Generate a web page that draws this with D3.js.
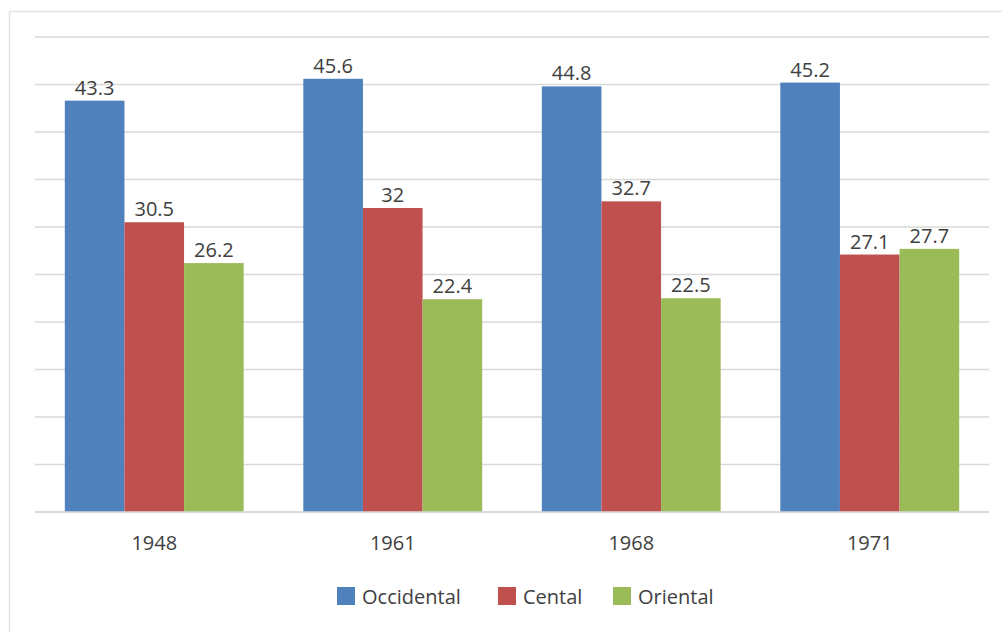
<!DOCTYPE html>
<meta charset="utf-8">
<head>
<style>
body {
  margin: 0;
  background-color: #fff;
}
text {
  font-family: 'Open Sans', sans-serif;
  fill: #404040;
}
.grid line {
  stroke: #d9d9d9;
  stroke-width: 1.5;
}
</style>
<script src="https://d3js.org/d3.v7.min.js"></script>
</head>
<body>
<svg id="chart"></svg>

<script>

var years = ["1948", "1961", "1968", "1971"]
var series = ["Occidental", "Cental", "Oriental"]
var occidental = [43.3, 45.6, 44.8, 45.2]
var cental = [30.5, 32, 32.7, 27.1]
var oriental = [26.2, 22.4, 22.5, 27.7]
var colors = ["#4f81bd", "#c0504d", "#9bbb59"]
var yTicks = [0, 5, 10, 15, 20, 25, 30, 35, 40, 45, 50]

var width = 1002
var height = 632

var rows = years.map(function (y, i) {
  return {year: y, values: [occidental[i], cental[i], oriental[i]]}
})

var svg = d3.select('#chart')
  .attr('width', width)
  .attr('height', height)

// outer frame
svg.append('rect')
  .attr('x', 9.5)
  .attr('y', 11.5)
  .attr('width', 1000)
  .attr('height', 640)
  .attr('fill', 'none')
  .attr('stroke', '#e3e3e3')
  .attr('stroke-width', 1.5)

// scales
var x = d3.scaleBand()
  .domain(years)
  .range([35, 989])
  .paddingInner(0.25)
  .paddingOuter(0.125)

var xs = d3.scaleBand()
  .domain(series)
  .range([0, x.bandwidth()])

var y = d3.scaleLinear()
  .domain([0, 50])
  .range([512, 37])

// gridlines
svg.append('g')
  .attr('class', 'grid')
  .selectAll('line')
  .data(yTicks)
  .enter().append('line')
  .attr('x1', 35)
  .attr('x2', 989)
  .attr('y1', function (d) { return y(d) })
  .attr('y2', function (d) { return y(d) })

// bars
var group = svg.selectAll('.year')
  .data(rows)
  .enter().append('g')
  .attr('class', 'year')
  .attr('transform', function (d) { return 'translate(' + x(d.year) + ',0)' })

group.selectAll('rect')
  .data(function (d) { return d.values.map(function (v, i) { return {name: series[i], value: v, i: i} }) })
  .enter().append('rect')
  .attr('x', function (d) { return xs(d.name) })
  .attr('y', function (d) { return y(d.value) })
  .attr('width', xs.bandwidth())
  .attr('height', function (d) { return y(0) - y(d.value) })
  .attr('fill', function (d) { return colors[d.i] })

group.selectAll('.val')
  .data(function (d) { return d.values.map(function (v, i) { return {name: series[i], value: v} }) })
  .enter().append('text')
  .attr('class', 'val')
  .attr('x', function (d) { return xs(d.name) + xs.bandwidth() / 2 })
  .attr('y', function (d) { return y(d.value) - 6 })
  .attr('text-anchor', 'middle')
  .style('font-size', '20px')
  .text(function (d) { return d.value })

// baseline
svg.append('line')
  .attr('x1', 35)
  .attr('x2', 989)
  .attr('y1', y(0))
  .attr('y2', y(0))
  .attr('stroke', '#d9d9d9')
  .attr('stroke-width', 1.5)

// x axis labels
var xAxis = svg.append('g')
  .attr('transform', 'translate(0,' + y(0) + ')')
  .call(d3.axisBottom(x).tickSize(0).tickPadding(14))

xAxis.select('.domain').remove()
xAxis.selectAll('.tick text')
  .attr('dy', 0)
  .attr('y', 38)
  .style('font-family', "'Open Sans', sans-serif")
  .style('font-size', '20px')
  .attr('fill', '#595959')

// legend
var legendX = [337, 498, 613]
var legend = svg.selectAll('.legend')
  .data(series)
  .enter().append('g')
  .attr('class', 'legend')
  .attr('transform', function (d, i) { return 'translate(' + legendX[i] + ',587)' })

legend.append('rect')
  .attr('width', 18)
  .attr('height', 18)
  .attr('fill', function (d, i) { return colors[i] })

legend.append('text')
  .attr('x', 25)
  .attr('y', 17)
  .style('font-size', '20px')
  .attr('fill', '#595959')
  .text(function (d) { return d })

</script>
</body>
</html>
